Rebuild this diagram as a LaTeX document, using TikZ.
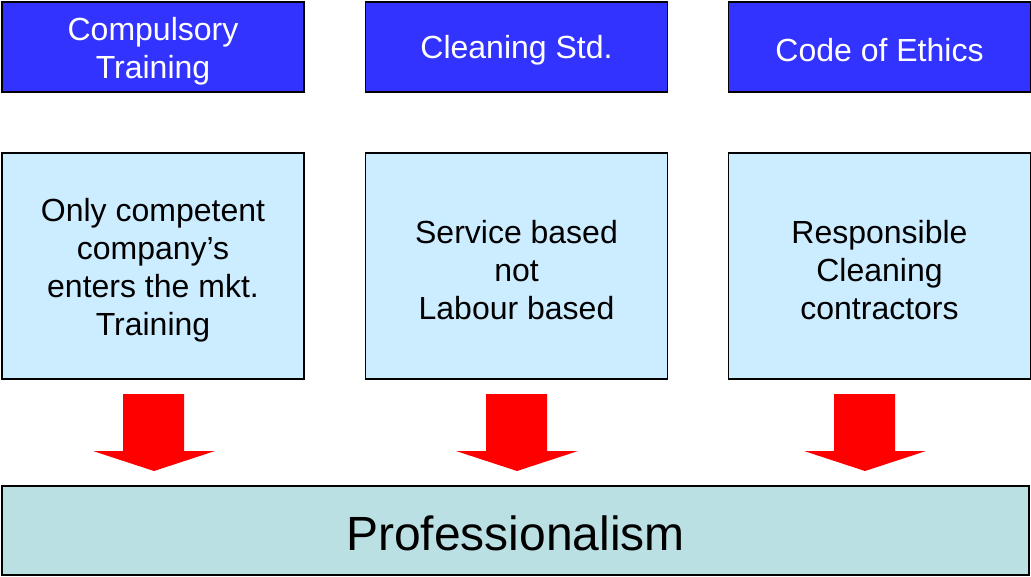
\documentclass[tikz,border=0pt]{standalone}
\usepackage{fontspec}
\setmainfont{Liberation Sans}
\definecolor{topblue}{HTML}{3333FF}
\definecolor{lightblue}{HTML}{CCECFF}
\definecolor{bottomteal}{HTML}{BBE0E3}
\begin{document}
\begin{tikzpicture}[x=1pt,y=-1pt,
  topbox/.style={draw=black,line width=1.5pt,fill=topblue,minimum width=302pt,minimum height=90pt,inner sep=0pt},
  toptext/.style={text=white,align=center,inner sep=0pt,font=\fontsize{32}{38}\selectfont},
  midbox/.style={draw=black,line width=1.5pt,fill=lightblue,minimum width=302pt,minimum height=226pt,inner sep=0pt},
  midtext/.style={align=center,inner sep=0pt,font=\fontsize{32}{38}\selectfont},
  botbox/.style={draw=black,line width=1.5pt,fill=bottomteal,minimum width=1027pt,minimum height=89pt,inner sep=0pt},
  bottext/.style={inner sep=0pt,font=\fontsize{48}{56}\selectfont},
  bigarrow/.style={fill=red,draw=none}]
\useasboundingbox (0,0) rectangle (1031,577);
\node[topbox] (t1) at (153,47) {};
\node[topbox] (t2) at (516.5,47) {};
\node[topbox] (t3) at (879.5,47) {};
\node[toptext] (t1l) at ([yshift=-4pt]t1.center) {Compulsory\\Training};
\node[toptext] (t2l) at ([yshift=-3pt]t2.center) {Cleaning Std.};
\node[toptext] (t3l) at ([yshift=-3pt]t3.center) {Code of Ethics};
\node[midbox] (m1) at (153,266) {};
\node[midbox] (m2) at (516.5,266) {};
\node[midbox] (m3) at (879.5,266) {};
\node[midtext] (m1l) at ([yshift=-4pt]m1.center) {Only competent\\company’s\\enters the mkt.\\Training};
\node[midtext] (m2l) at ([yshift=-4pt]m2.center) {Service based\\not\\Labour based};
\node[midtext] (m3l) at ([yshift=-4pt]m3.center) {Responsible\\Cleaning\\contractors};
\node[botbox] (b) at (515.5,530.5) {};
\node[bottext] (bl) at ([yshift=-3pt]b.center) {Professionalism};
\foreach \c in {154,517,865}{
  \fill[bigarrow] (\c-31,394) -- (\c+30,394) -- (\c+30,451) -- (\c+61,451) -- (\c,471) -- (\c-61,451) -- (\c-31,451) -- cycle;
}
\end{tikzpicture}
\end{document}
